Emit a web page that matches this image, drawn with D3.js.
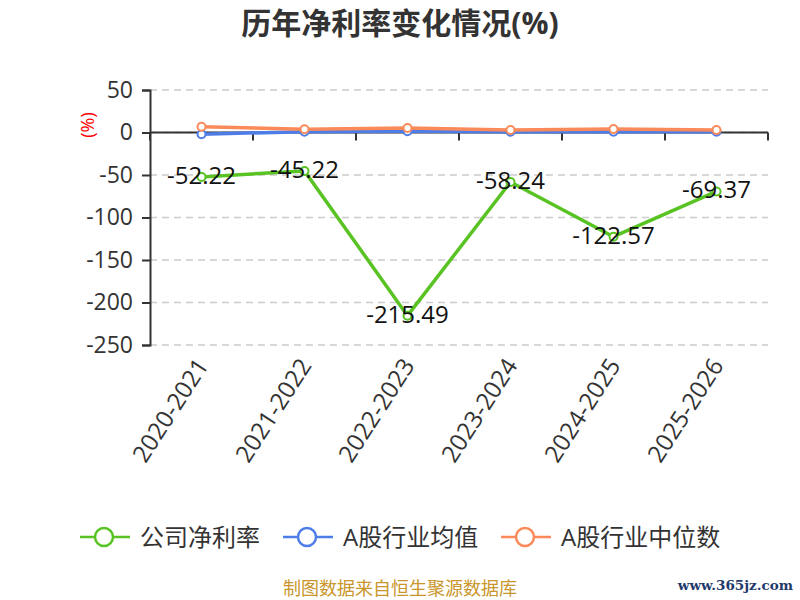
<!DOCTYPE html>
<html>
<head>
<meta charset="utf-8">
<script src="https://cdn.jsdelivr.net/npm/d3@7"></script>
<style>
  body { margin: 0; background: #fff; }
  text { font-family: "Open Sans", "Noto Sans CJK SC", sans-serif; }
</style>
</head>
<body>
<div id="chart-area"></div>
<script>
const years = ["2020-2021", "2021-2022", "2022-2023", "2023-2024", "2024-2025", "2025-2026"]
const companyRate = [-52.22, -45.22, -215.49, -58.24, -122.57, -69.37]
const industryAvg = [-2.0, 1.0, 1.5, 0.8, 0.8, 1.0]
const industryMedian = [6.8, 3.8, 5.2, 2.9, 4.0, 3.0]
const yTicks = [50, 0, -50, -100, -150, -200, -250]

const seriesNames = ["公司净利率", "A股行业均值", "A股行业中位数"]
const colors = ["#58c322", "#4f7de8", "#fa8a5a"]

const margin = { top: 90, right: 32, bottom: 255, left: 150 }
const width = 800 - margin.left - margin.right,
      height = 600 - margin.top - margin.bottom

const svg = d3.select("#chart-area").append("svg")
    .attr("width", 800)
    .attr("height", 600)

const g = svg.append("g")
    .attr("transform", "translate(" + margin.left + "," + margin.top + ")")

// title
svg.append("text")
    .attr("x", 400)
    .attr("y", 34)
    .attr("text-anchor", "middle")
    .attr("font-size", "30px")
    .attr("font-weight", "bold")
    .attr("fill", "#333")
    .text("历年净利率变化情况(%)")

const x = d3.scaleBand()
    .domain(years)
    .range([0, width])

const y = d3.scaleLinear()
    .domain([-250, 50])
    .range([height, 0])

// dashed grid
g.selectAll(".grid")
    .data(yTicks)
    .enter().append("line")
        .attr("class", "grid")
        .attr("x1", 0)
        .attr("x2", width)
        .attr("y1", d => y(d))
        .attr("y2", d => y(d))
        .attr("stroke", "#ccc")
        .attr("stroke-width", 1.5)
        .attr("stroke-dasharray", "7,5")

// y axis (plain hyphen for negatives, like the original)
const yAxisCall = d3.axisLeft(y)
    .tickValues(yTicks)
    .tickFormat(d => String(d))
    .tickSize(8)
    .tickPadding(9)
const yAxis = g.append("g")
    .attr("class", "y-axis")
    .call(yAxisCall)
yAxis.select(".domain").attr("stroke", "#333").attr("stroke-width", 2)
yAxis.selectAll(".tick line").attr("stroke", "#333").attr("stroke-width", 2)
yAxis.selectAll("text")
    .attr("font-size", "23px")
    .attr("fill", "#333")
    .attr("font-family", "'Open Sans', sans-serif")

// x axis line at zero with ticks at band edges
const xLine = g.append("g").attr("class", "x axis")
xLine.append("line")
    .attr("x1", 0).attr("x2", width)
    .attr("y1", y(0)).attr("y2", y(0))
    .attr("stroke", "#333").attr("stroke-width", 2)
xLine.selectAll(".xtick")
    .data(years.concat(["end"]))
    .enter().append("line")
        .attr("class", "xtick")
        .attr("x1", (d, i) => i * x.step())
        .attr("x2", (d, i) => i * x.step())
        .attr("y1", y(0))
        .attr("y2", y(0) + 8)
        .attr("stroke", "#333").attr("stroke-width", 2)

// category labels rotated under the plot
g.selectAll(".xlabel")
    .data(years)
    .enter().append("text")
        .attr("class", "xlabel")
        .attr("transform", d => "translate(" + (x(d) + x.bandwidth() / 2 + 1) + "," + (height + 16) + ") rotate(-57)")
        .attr("text-anchor", "end")
        .attr("dy", "0.35em")
        .attr("font-size", "24px")
        .attr("fill", "#333")
        .text(d => d)

// unit label
svg.append("text")
    .attr("transform", "translate(94,125) rotate(-90)")
    .attr("text-anchor", "middle")
    .attr("font-size", "18px")
    .attr("fill", "#f00")
    .text("(%)")

const line = d3.line()
    .x((d, i) => x(years[i]) + x.bandwidth() / 2)
    .y(d => y(d))

const allSeries = [companyRate, industryAvg, industryMedian]

// draw average first, then median, company on top
;[1, 2, 0].forEach(function(si) {
    const data = allSeries[si]
    g.append("path")
        .datum(data)
        .attr("fill", "none")
        .attr("stroke", colors[si])
        .attr("stroke-width", 3.5)
        .attr("stroke-linejoin", "round")
        .attr("d", line)
    g.selectAll(".pt" + si)
        .data(data)
        .enter().append("circle")
            .attr("class", "pt" + si)
            .attr("cx", (d, i) => x(years[i]) + x.bandwidth() / 2)
            .attr("cy", d => y(d))
            .attr("r", 4)
            .attr("fill", "#fff")
            .attr("stroke", colors[si])
            .attr("stroke-width", 2)
})

// value labels for company
g.selectAll(".vlabel")
    .data(companyRate)
    .enter().append("text")
        .attr("class", "vlabel")
        .attr("x", (d, i) => x(years[i]) + x.bandwidth() / 2)
        .attr("y", d => y(d) + 7)
        .attr("text-anchor", "middle")
        .attr("font-size", "24px")
        .attr("fill", "#111")
        .text(d => d.toFixed(2))

// legend
const legendX = [80, 283, 501]
const legend = svg.selectAll(".legend")
    .data(seriesNames)
    .enter().append("g")
        .attr("class", "legend")
        .attr("transform", (d, i) => "translate(" + legendX[i] + ",537)")
legend.append("line")
    .attr("x1", 0).attr("x2", 50)
    .attr("stroke", (d, i) => colors[i])
    .attr("stroke-width", 2.5)
legend.append("circle")
    .attr("cx", 24).attr("r", 9)
    .attr("fill", "#fff")
    .attr("stroke", (d, i) => colors[i])
    .attr("stroke-width", 2.5)
legend.append("text")
    .attr("x", 60)
    .attr("dy", "0.36em")
    .attr("font-size", "24px")
    .attr("fill", "#333")
    .text(d => d)

// source notes
svg.append("text")
    .attr("x", 400)
    .attr("y", 595)
    .attr("text-anchor", "middle")
    .attr("font-size", "18px")
    .attr("fill", "#c9962b")
    .text("制图数据来自恒生聚源数据库")

svg.append("text")
    .attr("x", 793)
    .attr("y", 590)
    .attr("text-anchor", "end")
    .attr("font-size", "13.5px")
    .attr("font-weight", "bold")
    .attr("fill", "#1f3a6b")
    .style("font-family", "'DejaVu Serif', serif")
    .text("www.365jz.com")
</script>
</body>
</html>
